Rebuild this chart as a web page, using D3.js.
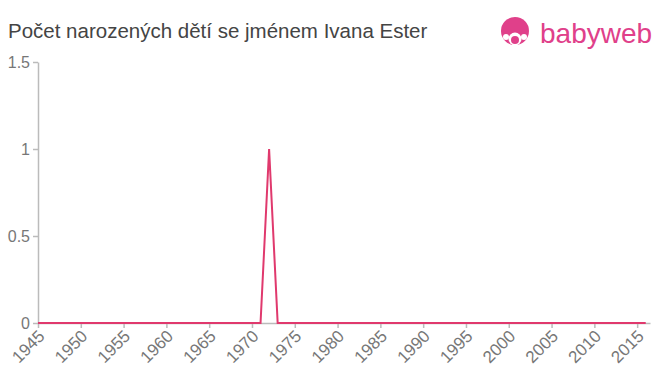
<!DOCTYPE html>
<html>
<head>
<meta charset="utf-8">
<script src="https://cdn.jsdelivr.net/npm/d3@7"></script>
<style>
  body { margin: 0; background: #fff; }
  svg { font-family: "Liberation Sans", Arial, sans-serif; }
</style>
</head>
<body>
<script>
// data
const years = d3.range(1945, 2017);
const counts = years.map(y => y === 1972 ? 1 : 0);
const yTicks = [0, 0.5, 1, 1.5];
const xTicks = d3.range(1945, 2016, 5);

const width = 660, height = 375;
const margin = { top: 62, right: 10, bottom: 52, left: 38 };

const svg = d3.select("body").append("svg")
    .attr("width", width)
    .attr("height", height);

// title
svg.append("text")
    .attr("x", 8).attr("y", 38)
    .attr("fill", "#444")
    .style("font-size", "20.5px")
    .text("Počet narozených dětí se jménem Ivana Ester");

// logo
const logo = svg.append("g").attr("transform", "translate(501,16)");
logo.append("circle").attr("cx", 14).attr("cy", 15).attr("r", 14).attr("fill", "#e0408a");
logo.append("circle").attr("cx", 14).attr("cy", 23).attr("r", 6.5).attr("fill", "#fff");
logo.append("circle").attr("cx", 14).attr("cy", 24).attr("r", 4).attr("fill", "#e0408a");
logo.append("circle").attr("cx", 5).attr("cy", 21).attr("r", 3).attr("fill", "#fff");
logo.append("circle").attr("cx", 23).attr("cy", 21).attr("r", 3).attr("fill", "#fff");
logo.append("text")
    .attr("x", 39).attr("y", 27)
    .attr("fill", "#e0408a")
    .style("font-size", "28px")
    .text("babyweb");

const x = d3.scaleLinear()
    .domain([1945, 2016.5])
    .range([margin.left, width - margin.right]);

const y = d3.scaleLinear()
    .domain([0, 1.5])
    .range([height - margin.bottom, margin.top]);

// y axis
const yAxis = svg.append("g")
    .attr("transform", `translate(${margin.left},0)`)
    .call(d3.axisLeft(y).tickValues(yTicks).tickFormat(d3.format("")).tickSize(5).tickSizeOuter(0));
yAxis.attr("font-size", 16).attr("font-family", null);
yAxis.select(".domain").attr("stroke", "#bbb").attr("stroke-width", 1.5);
yAxis.selectAll(".tick line").attr("stroke", "#bbb").attr("stroke-width", 1.5);
yAxis.selectAll(".tick text")
    .attr("fill", "#777")
    .attr("x", -8);

// x axis
const xAxis = svg.append("g")
    .attr("transform", `translate(0,${height - margin.bottom})`)
    .call(d3.axisBottom(x).tickValues(xTicks).tickFormat(d3.format("d")).tickSize(5).tickSizeOuter(0));
xAxis.attr("font-size", 17).attr("font-family", null);
xAxis.select(".domain").attr("stroke", "#bbb").attr("stroke-width", 1.5);
xAxis.selectAll(".tick line").attr("stroke", "#bbb").attr("stroke-width", 1.5);
xAxis.selectAll(".tick text")
    .attr("fill", "#777")
    .attr("text-anchor", "end")
    .attr("x", 0)
    .attr("y", 0)
    .attr("dy", "0.35em")
    .attr("transform", "translate(3,10) rotate(-45)");

// line
const line = d3.line()
    .x((d, i) => x(years[i]))
    .y(d => y(d));

svg.append("path")
    .datum(counts)
    .attr("fill", "none")
    .attr("stroke", "#e0396d")
    .attr("stroke-width", 2)
    .attr("d", line);
</script>
</body>
</html>
